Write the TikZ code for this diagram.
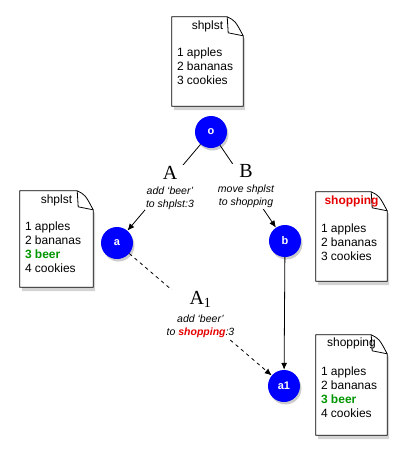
\documentclass[tikz,border=0pt]{standalone}
\usepackage{fontspec}
\setsansfont{Liberation Sans}
\newfontfamily\timesfont{Liberation Serif}
\usetikzlibrary{shadows,arrows.meta}

\definecolor{beergreen}{RGB}{0,150,0}
\definecolor{shopred}{RGB}{230,0,0}

\tikzset{
  state/.style={circle,fill=blue,minimum size=32pt,inner sep=0pt,text=white,
    font=\sffamily\bfseries\fontsize{11}{13}\selectfont,
    drop shadow={shadow xshift=1.5pt,shadow yshift=-2.5pt,opacity=0.4}},
  page/.style={inner sep=0pt,draw=none},
  pageline/.style={draw=black,line width=0.8pt,fill=white,
    drop shadow={shadow xshift=2pt,shadow yshift=-4pt,opacity=0.35}},
  foldline/.style={draw=black,line width=0.8pt,line join=round},
  pagetitle/.style={anchor=base,inner sep=0pt,font=\sffamily\fontsize{12}{14}\selectfont},
  pagelist/.style={anchor=north west,inner sep=0pt,align=left,
    font=\sffamily\fontsize{12}{13.8}\selectfont},
  edgelbl/.style={fill=white,inner sep=1pt,align=center,
    font=\sffamily\itshape\fontsize{10.5}{13}\selectfont},
  move/.style={-{Latex[length=7pt,width=6pt]},line width=0.8pt},
  sidemove/.style={move,dash pattern=on 3.5pt off 3.5pt},
}
\newcommand{\bigletter}[1]{{\timesfont\upshape\fontsize{20}{20}\selectfont #1}}
\newcommand{\pagecurl}[1]{%
  \path[pageline] (#1.north west) -- ([xshift=-16pt]#1.north east)
    .. controls ([xshift=-8pt,yshift=-4pt]#1.north east) .. ([yshift=-19pt]#1.north east)
    -- (#1.south east) -- (#1.south west) -- cycle;
  \draw[foldline] ([xshift=-16pt]#1.north east) -- ([xshift=-15pt,yshift=-16pt]#1.north east)
    -- ([yshift=-19pt]#1.north east);
}

\begin{document}
\begin{tikzpicture}[x=1pt,y=-1pt]
  \useasboundingbox (0,0) rectangle (407,459);

  % states
  \node[state] (o) at (211,132) {o};
  \node[state] (a) at (117,243) {a};
  \node[state] (b) at (285,241) {b};
  \node[state] (a1) at (284,386) {a1};

  % moves
  \draw[move] (o) -- node[edgelbl,xshift=6pt] (lblA) {\bigletter{A}\\[2pt] add `beer'\\ to shplst:3} (a);
  \draw[move] (o) -- node[edgelbl,xshift=-2pt] (lblB) {\bigletter{B}\\[2pt] move shplst\\ to shopping} (b);
  \draw[move] (b) -- (a1);
  \draw[sidemove] (a) -- node[edgelbl] (lblA1) {\bigletter{A\textsubscript{1}}\\[5pt] add `beer'\\ to {\color{shopred}\bfseries shopping}:3} (a1);

  % page of o
  \node[page,minimum width=71pt,minimum height=89pt] (pg-o) at (207.5,61.5) {};
  \pagecurl{pg-o}
  \node[pagetitle] (pg-o-title) at ([yshift=-13pt]pg-o.north) {shplst};
  \node[pagelist] (pg-o-list) at ([xshift=5pt,yshift=-31pt]pg-o.north west) {1 apples\\2 bananas\\3 cookies};

  % page of a
  \node[page,minimum width=73pt,minimum height=96pt] (pg-a) at (56.5,239) {};
  \pagecurl{pg-a}
  \node[pagetitle] (pg-a-title) at ([yshift=-13pt]pg-a.north) {shplst};
  \node[pagelist] (pg-a-list) at ([xshift=5pt,yshift=-31pt]pg-a.north west) {1 apples\\2 bananas\\{\color{beergreen}\bfseries 3 beer}\\4 cookies};

  % page of b
  \node[page,minimum width=71pt,minimum height=89pt] (pg-b) at (351.5,236.5) {};
  \pagecurl{pg-b}
  \node[pagetitle,text=shopred,font=\sffamily\bfseries\fontsize{12}{14}\selectfont] (pg-b-title) at ([yshift=-13pt]pg-b.north) {shopping};
  \node[pagelist] (pg-b-list) at ([xshift=5pt,yshift=-32pt]pg-b.north west) {1 apples\\2 bananas\\3 cookies};

  % page of a1
  \node[page,minimum width=71pt,minimum height=100pt] (pg-a1) at (351.5,385) {};
  \pagecurl{pg-a1}
  \node[pagetitle] (pg-a1-title) at ([yshift=-12pt]pg-a1.north) {shopping};
  \node[pagelist] (pg-a1-list) at ([xshift=5pt,yshift=-32pt]pg-a1.north west) {1 apples\\2 bananas\\{\color{beergreen}\bfseries 3 beer}\\4 cookies};
\end{tikzpicture}
\end{document}
